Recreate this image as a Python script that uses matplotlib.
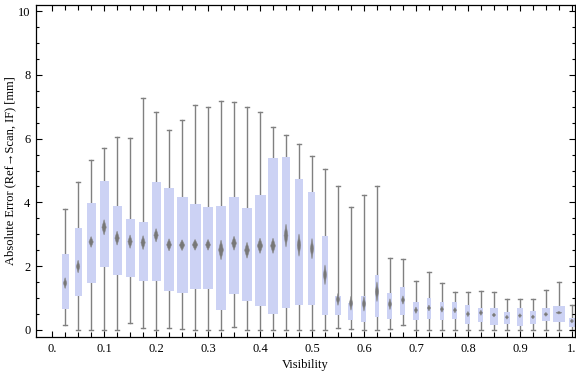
import numpy as np
import matplotlib
matplotlib.use("Agg")
import matplotlib.pyplot as plt
from matplotlib.patches import Rectangle, Polygon

# visibility bins (box centres)
visibility = np.arange(1, 41) * 0.025

# box whisker statistics (mm)
whisker_lo = [0.15, 0.0, 0.0, 0.0, 0.0, 0.21, 0.05, 0.0, 0.05, 0.03,
              0.0, 0.0, 0.0, 0.08, 0.0, 0.0, 0.0, 0.0, 0.0, 0.0,
              0.0, 0.05, 0.02, 0.0, 0.0, 0.02, 0.16, 0.0, 0.0, 0.0,
              0.0, 0.0, 0.0, 0.0, 0.0, 0.0, 0.0, 0.0, 0.0, 0.0]
box_lo = [0.67, 1.05, 1.46, 1.96, 1.71, 1.66, 1.55, 1.55, 1.23, 1.17,
          1.29, 1.29, 0.63, 1.14, 0.92, 0.75, 0.51, 0.69, 0.79, 0.78,
          0.48, 0.48, 0.32, 0.26, 0.42, 0.36, 0.48, 0.32, 0.36, 0.32,
          0.36, 0.20, 0.26, 0.17, 0.20, 0.14, 0.20, 0.29, 0.26, 0.09]
median = [1.47, 1.99, 2.76, 3.22, 2.88, 2.77, 2.74, 2.97, 2.67, 2.66,
          2.67, 2.67, 2.51, 2.72, 2.50, 2.64, 2.64, 2.96, 2.66, 2.55,
          1.73, 0.96, 0.84, 0.82, 1.20, 0.81, 0.94, 0.62, 0.69, 0.65,
          0.62, 0.50, 0.54, 0.47, 0.40, 0.45, 0.41, 0.49, 0.54, 0.28]
box_hi = [2.39, 3.20, 3.99, 4.68, 3.89, 3.49, 3.38, 4.65, 4.46, 4.18,
          3.96, 3.86, 3.89, 4.18, 3.83, 4.24, 5.40, 5.43, 4.74, 4.33,
          2.95, 1.08, 0.85, 1.08, 1.73, 1.16, 1.35, 0.88, 1.00, 0.88,
          0.88, 0.78, 0.69, 0.69, 0.57, 0.69, 0.59, 0.69, 0.75, 0.38]
whisker_hi = [3.79, 4.64, 5.33, 5.70, 6.04, 6.02, 7.27, 6.85, 6.27, 6.58,
              7.05, 6.99, 7.17, 7.15, 7.00, 6.83, 6.36, 6.11, 5.83, 5.45,
              5.06, 4.52, 3.87, 4.23, 4.51, 2.27, 2.22, 1.53, 1.81, 1.47,
              1.18, 1.18, 1.21, 1.18, 0.98, 0.98, 0.98, 1.25, 1.50, 0.78]
# half height of the diamond marker (mm)
diamond_hh = [0.17, 0.20, 0.17, 0.24, 0.22, 0.21, 0.22, 0.21, 0.19, 0.17,
              0.17, 0.17, 0.31, 0.22, 0.25, 0.24, 0.24, 0.36, 0.35, 0.32,
              0.31, 0.19, 0.22, 0.23, 0.31, 0.17, 0.13, 0.10, 0.09, 0.09,
              0.08, 0.08, 0.08, 0.06, 0.06, 0.06, 0.06, 0.06, 0.04, 0.06]
# relative box width (sample size)
rel_width = [7, 7, 9, 9, 9, 9, 9, 9, 10, 11,
             11, 10, 10, 10, 10, 11, 10, 8, 7.3, 7,
             6, 6, 5, 5, 4.5, 5, 5, 6, 4.7, 4.7,
             5, 5, 5, 7.3, 6.3, 6.7, 6.3, 7.7, 12, 6]

box_color = "#CCD2F4"
line_color = "#808080"
px = 1.0 / 520.0  # data units per pixel along x

plt.rcParams['font.family'] = ['Liberation Serif', 'DejaVu Serif']

fig = plt.figure(figsize=(5.76, 3.77), dpi=100)
ax = fig.add_axes([36 / 576, (377 - 337) / 377, 539 / 576, (337 - 4.7) / 377])

for i, x in enumerate(visibility):
    w = rel_width[i] * px
    cap = 1.7 * px
    ax.plot([x, x], [whisker_lo[i], whisker_hi[i]], color=line_color, lw=1.0, zorder=1)
    ax.plot([x - cap, x + cap], [whisker_hi[i], whisker_hi[i]], color=line_color, lw=1.0, zorder=1)
    ax.plot([x - cap, x + cap], [whisker_lo[i], whisker_lo[i]], color=line_color, lw=1.0, zorder=1)
    ax.add_patch(Rectangle((x - w / 2, box_lo[i]), w, box_hi[i] - box_lo[i],
                           facecolor=box_color, edgecolor='none', zorder=2))
    hw = max(0.24 * w, 1.6 * px)
    hh = diamond_hh[i]
    ax.add_patch(Polygon([[x - hw, median[i]], [x, median[i] + hh],
                          [x + hw, median[i]], [x, median[i] - hh]],
                         closed=True, facecolor="#777777", edgecolor='#8a8a8a',
                         lw=0.4, zorder=3))

ax.set_xlim(-0.031, 1.006)
ax.set_ylim(-0.22, 10.2)

xt = np.arange(0, 1.0001, 0.1)
ax.set_xticks(xt)
ax.set_xticklabels(["0."] + ["%.1f" % v for v in xt[1:-1]] + ["1."])
ax.set_xticks(np.arange(0, 1.0001, 0.025), minor=True)
ax.set_yticks(np.arange(0, 10.1, 2))
ax.set_yticks(np.arange(0, 10.1, 0.5), minor=True)

ax.tick_params(which='both', direction='in', top=True, right=True,
               labelsize=9, colors='black', pad=4, width=0.8)
ax.tick_params(which='major', length=4)
ax.tick_params(which='minor', length=2.5)
ax.tick_params(axis='x', which='minor', length=3.5)
for s in ax.spines.values():
    s.set_linewidth(0.9)

ax.set_xlabel("Visibility", fontsize=9, labelpad=3)
ax.set_ylabel("Absolute Error (Ref\u2192Scan, IF) [mm]", fontsize=9, labelpad=1)

fig.savefig("out.png", dpi=100)
